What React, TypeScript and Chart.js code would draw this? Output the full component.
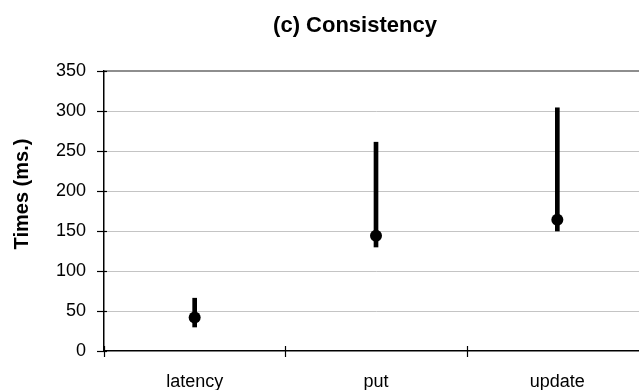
import React, { useEffect, useRef } from "react";
import { Chart, registerables } from "chart.js";

Chart.register(...registerables);

const categories = ["latency", "put", "update"];
const minValues = [30, 130, 150];
const maxValues = [66, 261, 304];
const centerValues = [42, 144, 164];
const yTicks = [0, 50, 100, 150, 200, 250, 300, 350];
const titleText = "(c) Consistency";
const yAxisTitle = "Times (ms.)";

const FONT = "'Liberation Sans', Arial, Helvetica, sans-serif";

export default function App() {
  const ref = useRef<HTMLCanvasElement>(null);

  useEffect(() => {
    document.body.style.margin = "0";
    const canvas = ref.current!;

    const overlay = {
      id: "overlay",
      afterDraw(chart: any) {
        const ctx = chart.ctx as CanvasRenderingContext2D;
        const { left, bottom } = chart.chartArea;
        const ys = chart.scales.y;
        const xs = chart.scales.x;
        ctx.save();
        ctx.strokeStyle = "#000";
        ctx.lineWidth = 1.2;
        yTicks.forEach((v) => {
          const py = Math.round(ys.getPixelForValue(v)) + 0.5;
          ctx.beginPath();
          ctx.moveTo(left - 7, py);
          ctx.lineTo(left + 3, py);
          ctx.stroke();
        });
        const step = xs.getPixelForValue(1) - xs.getPixelForValue(0);
        const first = xs.getPixelForValue(0) - step / 2;
        for (let i = 0; i <= categories.length; i++) {
          const px = Math.round(first + i * step) + 0.5;
          ctx.beginPath();
          ctx.moveTo(px, bottom - 5);
          ctx.lineTo(px, bottom + 6);
          ctx.stroke();
        }
        ctx.fillStyle = "#000";
        ctx.font = `bold 22px ${FONT}`;
        ctx.textAlign = "center";
        ctx.textBaseline = "alphabetic";
        ctx.fillText(titleText, 355, 32);
        ctx.translate(22, 194);
        ctx.rotate(-Math.PI / 2);
        ctx.font = `bold 20px ${FONT}`;
        ctx.textBaseline = "middle";
        ctx.fillText(yAxisTitle, 0, 0);
        ctx.restore();
      },
    };

    const chart = new Chart(canvas, {
      type: "bar",
      data: {
        labels: categories,
        datasets: [
          {
            type: "line",
            data: centerValues,
            showLine: false,
            pointRadius: 6,
            pointHoverRadius: 6,
            pointBackgroundColor: "#000",
            pointBorderColor: "#000",
            pointBorderWidth: 0,
            order: 0,
          } as any,
          {
            type: "bar",
            data: categories.map((_, i) => [minValues[i], maxValues[i]]),
            backgroundColor: "#000",
            borderWidth: 0,
            barThickness: 4,
            order: 1,
          } as any,
        ],
      },
      options: {
        responsive: false,
        animation: false,
        devicePixelRatio: 1,
        layout: { padding: { top: 71, right: 12, left: 0, bottom: 0 } },
        plugins: {
          legend: { display: false },
          tooltip: { enabled: false },
          title: { display: false },
        },
        scales: {
          x: {
            offset: true,
            grid: { display: false },
            border: { display: true, color: "#000", width: 1.5 },
            ticks: {
              color: "#000",
              font: { family: FONT, size: 18 },
              padding: 12,
              maxRotation: 0,
            },
            afterFit: (scale: any) => {
              scale.height = 39;
            },
          },
          y: {
            min: 0,
            max: 350,
            ticks: {
              stepSize: 50,
              color: "#000",
              font: { family: FONT, size: 18 },
              padding: 18,
            },
            grid: {
              drawTicks: false,
              color: (c: any) =>
                c.tick && c.tick.value === 350
                  ? "#8e8e8e"
                  : c.tick && c.tick.value === 0
                  ? "rgba(0,0,0,0)"
                  : "#c4c4c4",
              lineWidth: (c: any) => (c.tick && c.tick.value === 350 ? 2 : 1),
            },
            border: { display: true, color: "#000", width: 1.5 },
            afterFit: (scale: any) => {
              scale.width = 104;
            },
          },
        },
      },
      plugins: [overlay],
    });

    return () => chart.destroy();
  }, []);

  return (
    <div style={{ width: 639, height: 390, overflow: "hidden", background: "#fff" }}>
      <canvas ref={ref} width={660} height={390} style={{ width: 660, height: 390, display: "block" }} />
    </div>
  );
}
